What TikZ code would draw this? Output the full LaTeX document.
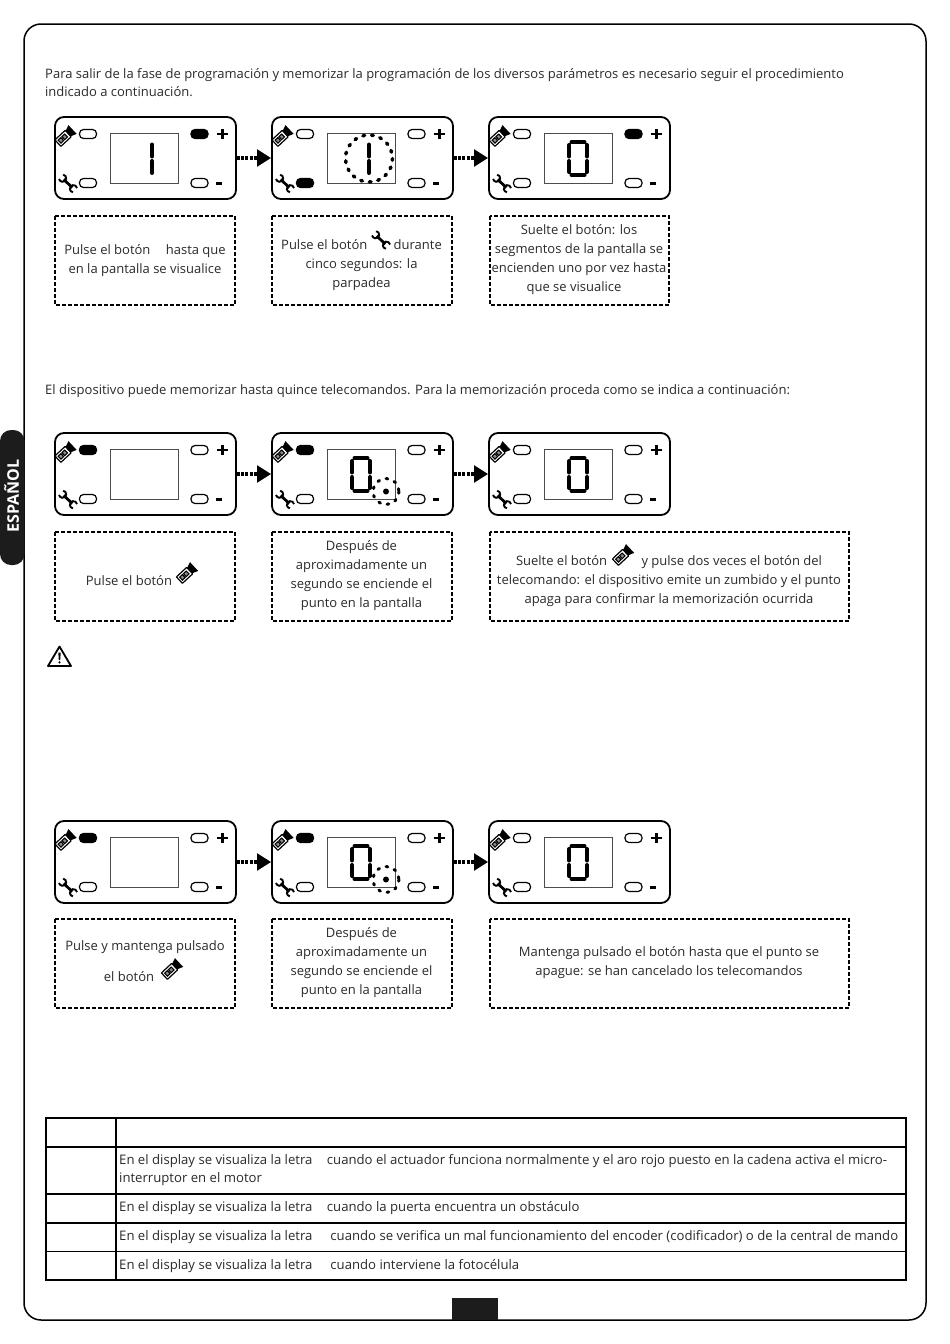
\documentclass[tikz,border=0pt]{standalone}
\usepackage{fontspec}
\setmainfont{Open Sans}
\usetikzlibrary{arrows.meta}
\definecolor{ink}{HTML}{2A2A2A}
\definecolor{tabblack}{HTML}{1C1C1C}
\tikzset{
  x=1pt,y=-1pt,
  bodytext/.style={inner sep=0,text=ink,font=\fontsize{13}{19}\selectfont},
  linetext/.style={bodytext,anchor=base west},
  tabletext/.style={linetext,font=\fontsize{13.15}{19}\selectfont},
  boxtext/.style={bodytext,align=center},
  panelbox/.style={draw=black,line width=1.8,rounded corners=9,minimum width=181,minimum height=82,inner sep=0,fill=white},
  screenbox/.style={draw=black!70,line width=1},
  dashbox/.style={draw=black,line width=1.5,dash pattern=on 4 off 2},
  led/.style={draw=black,line width=1.2,rounded corners=4},
  seg/.style={draw=black,line width=4,line cap=round},
  ring/.style={draw=black,line width=3.5,line cap=round,dash pattern=on 1.8 off 6.9},
  flowarrow/.style={line width=4.8,dash pattern=on 3 off 1.2 on 3 off 1.2 on 3 off 1.2 on 3 off 1.2 on 30 off 0,-{Triangle[length=14,width=16.5]}},
  tableline/.style={draw=black,line width=1.6},
  remoteicon/.pic={
    \begin{scope}[rotate=43]
      \fill[black] (4.5,-3.5) -- (11,-6) -- (11,6) -- (4.5,3.5) -- cycle;
      \draw[line width=1.2,fill=white,rounded corners=0.6] (-9,-4.4) rectangle (5,4.4);
      \draw[line width=1.1,fill=black!45] (-6.8,-2) rectangle (-3,2);
      \draw[line width=1.1,fill=black!45] (-1.6,-2) rectangle (2.2,2);
    \end{scope}
  },
  wrenchicon/.pic={
    \begin{scope}[rotate=-44]
      \draw[line width=2.8] (-6,0) -- (6,0);
      \draw[line width=1.9] (9.6,-3) arc (-55:-305:3.6);
      \draw[line width=1.9] (-9.6,-3) arc (-125:125:3.6);
    \end{scope}
  }
}
% name, x, y, four LED fills
\newcommand{\dpanel}[7]{%
  \node[panelbox] (#1) at (#2+90.5,#3+41) {};
  \begin{scope}[shift={(#2,#3)}]
    \draw[screenbox] (55,16.5) rectangle (123,66);
    \draw[led,fill=#4] (24.5,12.5) rectangle (41.5,21.5);
    \draw[led,fill=#5] (24.5,61.5) rectangle (41.5,70.5);
    \draw[led,fill=#6] (136,12.5) rectangle (153,21.5);
    \draw[led,fill=#7] (136,61.5) rectangle (153,70.5);
    \pic at (9.5,20) {remoteicon};
    \pic at (13,66.5) {wrenchicon};
    \draw[line width=2.8] (162,17) -- (172.5,17) (167.2,12) -- (167.2,22);
    \draw[line width=3] (161,66.5) -- (167,66.5);
  \end{scope}}
\newcommand{\digitone}[2]{%
  \begin{scope}[shift={(#1,#2)}]
    \draw[seg] (97,27.5) -- (97,39.5) (97,44) -- (97,56);
  \end{scope}}
\newcommand{\digitzero}[2]{%
  \begin{scope}[shift={(#1,#2)}]
    \draw[seg] (82.5,25) -- (95.5,25) (82.5,58) -- (95.5,58)
      (80,28) -- (80,39.5) (80,44) -- (80,55)
      (98,28) -- (98,39.5) (98,44) -- (98,55);
  \end{scope}}
\newcommand{\ringdot}[2]{%
  \begin{scope}[shift={(#1,#2)}]
    \fill[black] (114,58.5) circle (3);
    \draw[ring,line width=3] (114,58.5) circle (13);
  \end{scope}}
\begin{document}
\begin{tikzpicture}
\useasboundingbox (0,0) rectangle (950,1344);
\fill[white] (0,0) rectangle (950,1344);
% page frame and marks
\draw[line width=1.5,rounded corners=17] (24,24) rectangle (926,1320);
\fill[tabblack,rounded corners=11] (24.5,430) -- (0,430) -- (0,565) -- (24.5,565) -- cycle;
\node[rotate=90,inner sep=0,text=white,font=\fontsize{16}{18}\selectfont\bfseries] (tab) at (11.5,496) {ESPAÑOL};
\fill[tabblack] (452,1298) rectangle (497.5,1320);

% intro
\node[linetext] (t1) at (45,78) {Para salir de la fase de programación y memorizar la programación de los diversos parámetros es necesario seguir el procedimiento};
\node[linetext] (t2) at (45,96) {indicado a continuación.};
\node[linetext,font=\fontsize{13.05}{19}\selectfont] (t3) at (45,394) {El dispositivo puede memorizar hasta quince telecomandos. Para la memorización proceda como se indica a continuación:};

% row 1
\dpanel{a1}{55}{117}{white}{white}{black}{white}
\digitone{55}{117}
\dpanel{a2}{272}{117}{white}{black}{white}{white}
\digitone{272}{117}
\draw[ring] (369,158.5) circle (23.5);
\dpanel{a3}{489}{117}{white}{white}{black}{white}
\digitzero{489}{117}
\draw[flowarrow] (a1.east) -- (a2.west);
\draw[flowarrow] (a2.east) -- (a3.west);
\draw[dashbox] (55,216) rectangle (235,305);
\draw[dashbox] (272,216) rectangle (452,305);
\draw[dashbox] (490,216) rectangle (669,305);
\node[boxtext] (ta1) at (145,260.5) {Pulse el botón\hspace{12pt} hasta que\\en la pantalla se visualice};
\node[boxtext] (ta2) at (361.5,265.5) {Pulse el botón\hspace{23pt} durante\\cinco segundos: la\\parpadea};
\pic at (381,240) {wrenchicon};
\node[boxtext] (ta3) at (579,260) {Suelte el botón: los\\segmentos de la pantalla se\\encienden uno por vez hasta\\que se visualice\hspace*{10pt}};

% row 2
\dpanel{b1}{55}{433}{black}{white}{white}{white}
\dpanel{b2}{272}{433}{black}{white}{white}{white}
\digitzero{272}{433}
\ringdot{272}{433}
\dpanel{b3}{489}{433}{white}{white}{white}{white}
\digitzero{489}{433}
\draw[flowarrow] (b1.east) -- (b2.west);
\draw[flowarrow] (b2.east) -- (b3.west);
\draw[dashbox] (55,532) rectangle (235,621);
\draw[dashbox] (272,532) rectangle (452,621);
\draw[dashbox] (490,532) rectangle (849,621);
\node[bodytext] (tb1) at (129,580.5) {Pulse el botón};
\pic at (186,574) {remoteicon};
\node[boxtext] (tb2) at (361.5,575.5) {Después de\\aproximadamente un\\segundo se enciende el\\punto en la pantalla};
\node[boxtext] (tb3) at (669,581.5) {Suelte el botón\hspace{31pt} y pulse dos veces el botón del\\telecomando: el dispositivo emite un zumbido y el punto\\apaga para confirmar la memorización ocurrida};
\pic at (622,556) {remoteicon};

% warning
\draw[line width=1.8,line join=round] (59.5,646.5) -- (71,666) -- (48,666) -- cycle;
\fill (58.3,652.5) -- (60.7,652.5) -- (60.2,660) -- (58.8,660) -- cycle;
\fill (59.5,662.3) circle (1.2);

% row 3
\dpanel{c1}{55}{821}{black}{white}{white}{white}
\dpanel{c2}{272}{821}{black}{white}{white}{white}
\digitzero{272}{821}
\ringdot{272}{821}
\dpanel{c3}{489}{821}{white}{white}{white}{white}
\digitzero{489}{821}
\draw[flowarrow] (c1.east) -- (c2.west);
\draw[flowarrow] (c2.east) -- (c3.west);
\draw[dashbox] (55,919) rectangle (235,1008);
\draw[dashbox] (272,919) rectangle (452,1008);
\draw[dashbox] (490,919) rectangle (849,1008);
\node[bodytext] (tc1a) at (145,947.5) {Pulse y mantenga pulsado};
\node[bodytext] (tc1b) at (129,976.5) {el botón};
\pic at (171,970) {remoteicon};
\node[boxtext] (tc2) at (361.5,963) {Después de\\aproximadamente un\\segundo se enciende el\\punto en la pantalla};
\node[boxtext] (tc3) at (669,963) {Mantenga pulsado el botón hasta que el punto se\\apague: se han cancelado los telecomandos};

% table
\draw[tableline] (46,1118) rectangle (906,1280);
\draw[tableline] (46,1147) -- (906,1147) (46,1194) -- (906,1194) (46,1223) -- (906,1223) (46,1251.5) -- (906,1251.5);
\draw[tableline] (116,1118) -- (116,1280);
\node[tabletext] (r1a) at (119,1164.5) {En el display se visualiza la letra\hspace{11pt} cuando el actuador funciona normalmente y el aro rojo puesto en la cadena activa el micro-};
\node[tabletext] (r1b) at (119,1182) {interruptor en el motor};
\node[tabletext] (r2) at (119,1211) {En el display se visualiza la letra\hspace{11pt} cuando la puerta encuentra un obstáculo};
\node[tabletext] (r3) at (119,1240) {En el display se visualiza la letra\hspace{14.5pt} cuando se verifica un mal funcionamiento del encoder (codificador) o de la central de mando};
\node[tabletext] (r4) at (119,1269) {En el display se visualiza la letra\hspace{14.5pt} cuando interviene la fotocélula};
\end{tikzpicture}
\end{document}
